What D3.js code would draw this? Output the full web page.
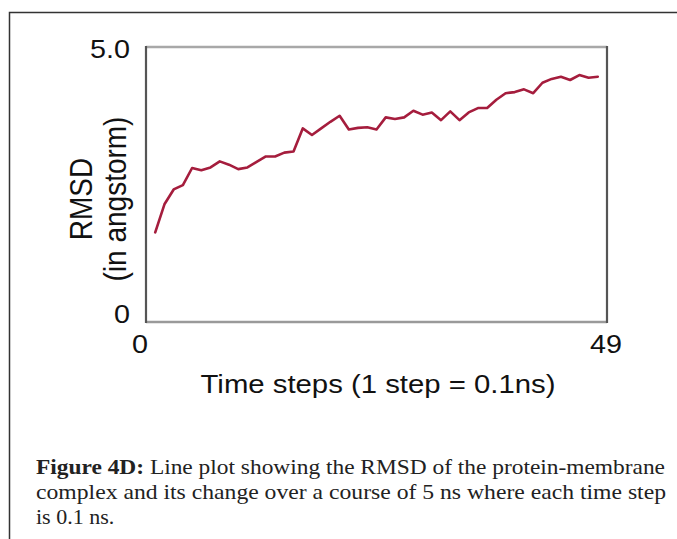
<!DOCTYPE html>
<html>
<head>
<meta charset="utf-8">
<script src="https://cdn.jsdelivr.net/npm/d3@7/dist/d3.min.js"></script>
<style>
  html, body { margin: 0; padding: 0; background: #fff; }
  svg { display: block; }
  .sans { font-family: "Liberation Sans", Arial, sans-serif; fill: #111; }
  .serif { font-family: "Liberation Serif", "DejaVu Serif", serif; fill: #222; }
</style>
</head>
<body>
<svg id="chart" width="677" height="539"></svg>
<script>
// RMSD (Å) per time step, steps 1..49
const steps = d3.range(1, 50);
const rmsd = [
  1.63, 2.14, 2.41, 2.49, 2.80, 2.76, 2.81, 2.92, 2.86, 2.78,
  2.81, 2.91, 3.01, 3.01, 3.08, 3.10, 3.52, 3.40, 3.52, 3.64,
  3.75, 3.50, 3.53, 3.54, 3.50, 3.72, 3.69, 3.72, 3.84, 3.77,
  3.81, 3.67, 3.83, 3.67, 3.81, 3.89, 3.89, 4.04, 4.16, 4.18,
  4.23, 4.16, 4.35, 4.42, 4.46, 4.40, 4.49, 4.44, 4.46
];
const xTickLabels = ["0", "49"];
const yTickLabels = ["0", "5.0"];
const captionLines = [
  { bold: "Figure 4D:", rest: " Line plot showing the RMSD of the protein-membrane" },
  { bold: "", rest: "complex and its change over a course of 5 ns where each time step" },
  { bold: "", rest: "is 0.1 ns." }
];

const svg = d3.select("#chart");
const stretch = 1.15;

const x = d3.scaleLinear().domain([0, 50]).range([146, 607]);
const y = d3.scaleLinear().domain([0, 5]).range([322, 47]);

// outer figure frame (left and top rules)
svg.append("path")
  .attr("d", "M9.5,539 L9.5,12.5 L677,12.5")
  .attr("fill", "none").attr("stroke", "#333").attr("stroke-width", 1.5);

// plot box
const [x0, x1] = x.range();
const [yb, yt] = y.range();
svg.append("line").attr("x1", x0).attr("x2", x1).attr("y1", yt).attr("y2", yt)
  .attr("stroke", "#a8a8a8").attr("stroke-width", 2.5);
svg.append("line").attr("x1", x0).attr("x2", x1).attr("y1", yb).attr("y2", yb)
  .attr("stroke", "#9a9a9a").attr("stroke-width", 2.5);
svg.append("line").attr("x1", x0).attr("x2", x0).attr("y1", yt - 1).attr("y2", yb + 1)
  .attr("stroke", "#555").attr("stroke-width", 2.2);
svg.append("line").attr("x1", x1).attr("x2", x1).attr("y1", yt - 1).attr("y2", yb + 1)
  .attr("stroke", "#555").attr("stroke-width", 2.2);

// RMSD line
const line = d3.line()
  .x((d, i) => x(steps[i]))
  .y(d => y(d))
  .curve(d3.curveLinear);
svg.append("path")
  .datum(rmsd)
  .attr("d", line)
  .attr("fill", "none")
  .attr("stroke", "#a51d3d")
  .attr("stroke-width", 2.6)
  .attr("stroke-linejoin", "round")
  .attr("stroke-linecap", "round");

// helper: horizontally widened text
function label(parent, tx, ty, text, size, anchor, rot) {
  const g = parent.append("g")
    .attr("transform", `translate(${tx},${ty}) scale(${stretch},1)` + (rot ? ` rotate(${rot})` : ""));
  return g.append("text").attr("class", "sans")
    .attr("font-size", size).attr("text-anchor", anchor).text(text);
}

// y tick labels
label(svg, 130, 58, yTickLabels[1], 25, "end");
label(svg, 130, 323, yTickLabels[0], 25, "end");

// x tick labels
label(svg, 140, 353, xTickLabels[0], 25, "middle");
label(svg, 606, 353, xTickLabels[1], 25, "middle");

// axis titles
label(svg, 378, 393, "Time steps (1 step = 0.1ns)", 25.5, "middle");
label(svg, 92, 199, "RMSD", 28, "middle", -90);
label(svg, 126, 199, "(in angstorm)", 28, "middle", -90);

// caption
const lineWidths = [629, 630, null];
captionLines.forEach((c, i) => {
  const t = svg.append("text").attr("class", "serif")
    .attr("x", 36).attr("y", 474 + i * 25)
    .attr("font-size", 22);
  if (c.bold) t.append("tspan").attr("font-weight", "bold").text(c.bold);
  t.append("tspan").text(c.rest);
  if (lineWidths[i]) t.attr("textLength", lineWidths[i]).attr("lengthAdjust", "spacingAndGlyphs");
});
</script>
</body>
</html>
